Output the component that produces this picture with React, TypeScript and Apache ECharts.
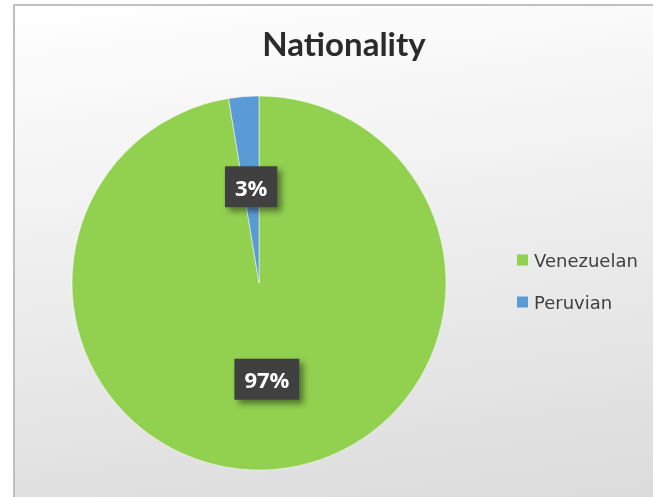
import React, { useEffect, useRef } from "react";
import * as echarts from "echarts";

const categories = ["Venezuelan", "Peruvian"];
const values = [97.4, 2.6];
const colors = ["#92d050", "#5b9bd5"];
const titleText = "Nationality";

export default function App() {
  const ref = useRef<HTMLDivElement>(null);
  useEffect(() => {
    const chart = echarts.init(ref.current!, null, { renderer: "svg" });
    chart.setOption({
      animation: false,
      graphic: [
        {
          type: "rect",
          shape: { x: 14, y: 5, width: 700, height: 600 },
          style: {
            fill: new echarts.graphic.LinearGradient(0, 0, 0.15, 1, [
              { offset: 0, color: "#ffffff" },
              { offset: 1, color: "#d9d9d9" },
            ]),
            stroke: "#bfbfbf",
            lineWidth: 2,
          },
          z: -10,
        },
      ],
      title: {
        text: titleText,
        left: 339,
        top: 21,
        textAlign: "center",
        textStyle: {
          fontFamily: "Lato",
          fontWeight: "bold",
          fontSize: 33,
          color: "#2b2b2b",
        },
      },
      legend: {
        orient: "vertical",
        left: 517,
        top: 251,
        padding: 0,
        itemWidth: 11,
        itemHeight: 11,
        itemGap: 24,
        itemStyle: { borderWidth: 0 },
        icon: "rect",
        textStyle: {
          fontFamily: "DejaVu Sans",
          fontSize: 18,
          color: "#404040",
          padding: [0, 0, 0, 1],
        },
        data: categories,
      },
      series: [
        {
          type: "pie",
          center: [259, 283],
          radius: 187,
          startAngle: 90,
          clockwise: true,
          color: colors,
          itemStyle: { borderColor: "#ffffff", borderWidth: 0.5 },
          label: {
            show: true,
            position: "inside",
            formatter: (p: any) => Math.round(p.percent) + "%",
            fontFamily: "Open Sans",
            fontWeight: "bold",
            fontSize: 22,
            color: "#ffffff",
            backgroundColor: "#404040",
            padding: [10, 10, 9, 10],
            shadowColor: "rgba(0,0,0,0.45)",
            shadowBlur: 6,
            shadowOffsetX: 4,
            shadowOffsetY: 4,
          },
          labelLine: { show: false },
          data: categories.map((c, i) => ({ name: c, value: values[i] })),
        },
      ],
    });
    return () => chart.dispose();
  }, []);
  return (
    <div
      ref={ref}
      style={{ position: "fixed", left: 0, top: 0, width: 653, height: 497 }}
    />
  );
}
